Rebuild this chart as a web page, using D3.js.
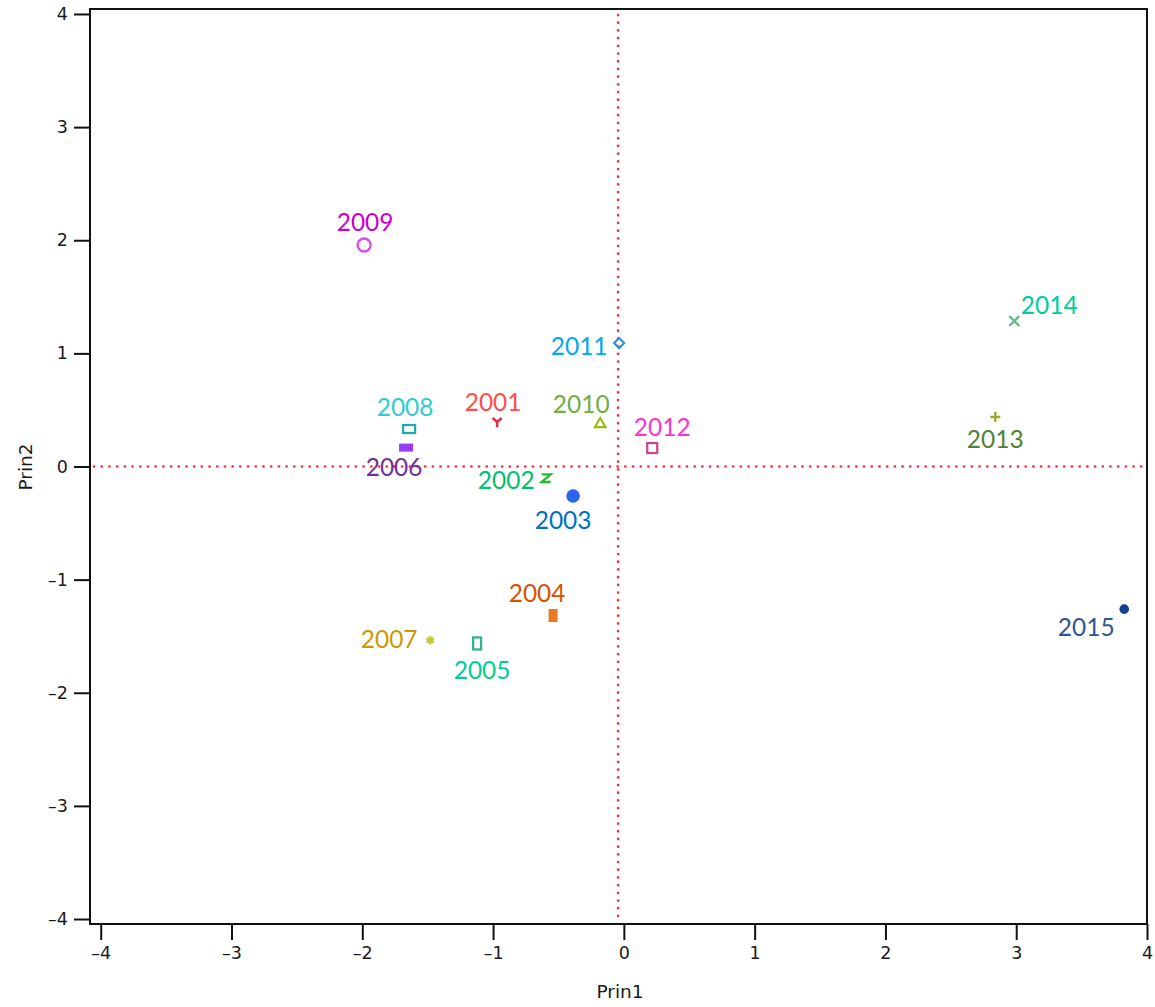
<!DOCTYPE html>
<html><head><meta charset="utf-8">
<script src="https://cdn.jsdelivr.net/npm/d3@7"></script>
<style>body{margin:0;background:#fff}</style>
</head><body>
<svg id="c" width="1155" height="1007"></svg>
<script>
const years = ["2001","2002","2003","2004","2005","2006","2007","2008","2009","2010","2011","2012","2013","2014","2015"];
const prin1 = [-0.969,-0.594,-0.388,-0.541,-1.122,-1.665,-1.481,-1.642,-1.986,-0.181,-0.036,0.217,2.840,2.985,3.826];
const prin2 = [0.393,-0.103,-0.261,-1.317,-1.564,0.167,-1.535,0.331,1.958,0.384,1.091,0.163,0.437,1.286,-1.261];
const xTicks = [-4,-3,-2,-1,0,1,2,3,4];
const yTicks = [-4,-3,-2,-1,0,1,2,3,4];
const refX = -0.044, refY = 0;

// styling / layout (kept apart from data)
const shapes = ["Y","Z","dot","vbar","vrect","hbar","star","hrect","ring","tri","diam","sq","plus","cross","dotS"];
const markColors = ["#e0304a","#22bb33","#2b65ec","#e87a2a","#2bb389","#9a3cf0","#c8c832","#22aaaa","#d44fe0","#99bb11","#3b8edb","#cc4488","#99aa33","#66bb88","#1a3e8e"];
const labelColors = ["#ff4c4c","#00c070","#0070c0","#d35400","#00cc99","#7030a0","#cc9900","#33cccc","#cc00cc","#70ad47","#00aaee","#ff33cc","#548235","#00cc99","#2f5597"];
const labelOff = [[-4,-21],[-40,1],[-10,23],[-16,-23],[5,26],[-12,19],[-41,-2],[-4,-23],[1,-23],[-19,-20],[-40,2],[10,-22],[0,21],[35,-17],[-38,17]];

const svg = d3.select("#c");
const L = 90, R = 1147, T = 9, B = 924;
const x = d3.scaleLinear().domain([-4.082, 4]).range([L, R]);
const y = d3.scaleLinear().domain([-4.044, 4.044]).range([B, T]);

// frame
svg.append("rect").attr("x", L).attr("y", T).attr("width", R - L).attr("height", B - T)
  .attr("fill", "none").attr("stroke", "#111").attr("stroke-width", 2);

// axes
const tickFont = "'DejaVu Sans', sans-serif";
const fmt = d => d < 0 ? "\u2013" + Math.abs(d) : d;
const xAxis = svg.append("g").attr("transform", `translate(0,${B})`)
  .call(d3.axisBottom(x).tickValues(xTicks).tickSize(16).tickPadding(7).tickFormat(fmt));
const yAxis = svg.append("g").attr("transform", `translate(${L},0)`)
  .call(d3.axisLeft(y).tickValues(yTicks).tickSize(16).tickPadding(6).tickFormat(fmt));
[xAxis, yAxis].forEach(g => {
  g.select(".domain").remove();
  g.selectAll(".tick line").attr("stroke", "#111").attr("stroke-width", 2);
  g.selectAll(".tick text").attr("fill", "#1a1a1a").style("font-family", tickFont).style("font-size", "17.5px");
});

// axis titles
svg.append("text").attr("x", 620).attr("y", 998).attr("text-anchor", "middle")
  .style("font-family", tickFont).style("font-size", "18.5px").attr("fill", "#1a1a1a").text("Prin1");
svg.append("text").attr("transform", "translate(32,467) rotate(-90)").attr("text-anchor", "middle")
  .style("font-family", tickFont).style("font-size", "18.5px").attr("fill", "#1a1a1a").text("Prin2");

// reference lines
const dotted = {stroke: "#ee3344", "stroke-width": 2.7, "stroke-dasharray": "0.1,7.6", "stroke-linecap": "round"};
const vline = svg.append("line").attr("x1", x(refX)).attr("x2", x(refX)).attr("y1", y(4.044) + 6).attr("y2", B - 4);
const hline = svg.append("line").attr("x1", L + 4).attr("x2", R - 4).attr("y1", y(refY)).attr("y2", y(refY));
[vline, hline].forEach(l => Object.entries(dotted).forEach(([k, v]) => l.attr(k, v)));

// markers
const pts = years.map((yr, i) => ({yr, px: x(prin1[i]), py: y(prin2[i]), shape: shapes[i], mc: markColors[i], lc: labelColors[i], off: labelOff[i]}));
const g = svg.append("g");
pts.forEach(p => {
  const m = g.append("g").attr("transform", `translate(${p.px},${p.py})`);
  const c = p.mc;
  switch (p.shape) {
    case "Y": m.append("path").attr("d", "M-4.5,-4L0,0L4.5,-4M0,0V5").attr("fill", "none").attr("stroke", c).attr("stroke-width", 2.6); break;
    case "Z": m.append("path").attr("d", "M-4.5,-3.8H4.5L-4.5,3.8H4.5").attr("fill", "none").attr("stroke", c).attr("stroke-width", 2.4); break;
    case "dot": m.append("circle").attr("r", 6.8).attr("fill", c); break;
    case "dotS": m.append("circle").attr("r", 4.8).attr("fill", c); break;
    case "vbar": m.append("rect").attr("x", -4.5).attr("y", -6.5).attr("width", 9).attr("height", 13).attr("fill", c); break;
    case "vrect": m.append("rect").attr("x", -4).attr("y", -6).attr("width", 8).attr("height", 12).attr("fill", "none").attr("stroke", c).attr("stroke-width", 2.2); break;
    case "hbar": m.append("rect").attr("x", -7).attr("y", -4).attr("width", 14).attr("height", 8).attr("fill", c); break;
    case "hrect": m.append("rect").attr("x", -6).attr("y", -4).attr("width", 12).attr("height", 8).attr("fill", "none").attr("stroke", c).attr("stroke-width", 2.2); break;
    case "ring": m.append("circle").attr("r", 6.5).attr("fill", "none").attr("stroke", c).attr("stroke-width", 2.3); break;
    case "star": m.append("path").attr("d", d3.symbol().type(d3.symbolAsterisk).size(50)()).attr("fill", "none").attr("stroke", c).attr("stroke-width", 2.6); break;
    case "tri": m.append("path").attr("d", "M0,-5L5.3,4H-5.3Z").attr("fill", "none").attr("stroke", c).attr("stroke-width", 2.2); break;
    case "diam": m.append("path").attr("d", "M0,-5L5,0L0,5L-5,0Z").attr("fill", "none").attr("stroke", c).attr("stroke-width", 2.2); break;
    case "sq": m.append("rect").attr("x", -5).attr("y", -5).attr("width", 10).attr("height", 10).attr("fill", "none").attr("stroke", c).attr("stroke-width", 2.2); break;
    case "plus": m.append("path").attr("d", "M-5,0H5M0,-5V5").attr("fill", "none").attr("stroke", c).attr("stroke-width", 2.4); break;
    case "cross": m.append("path").attr("d", "M-5,-5L5,5M5,-5L-5,5").attr("fill", "none").attr("stroke", c).attr("stroke-width", 2.4); break;
  }
  g.append("text").attr("x", p.px + p.off[0]).attr("y", p.py + p.off[1]).attr("text-anchor", "middle")
    .attr("dominant-baseline", "central").style("font-family", "Lato, 'Open Sans', sans-serif").style("font-size", "24.5px")
    .attr("fill", p.lc).text(p.yr);
});
</script>
</body></html>
